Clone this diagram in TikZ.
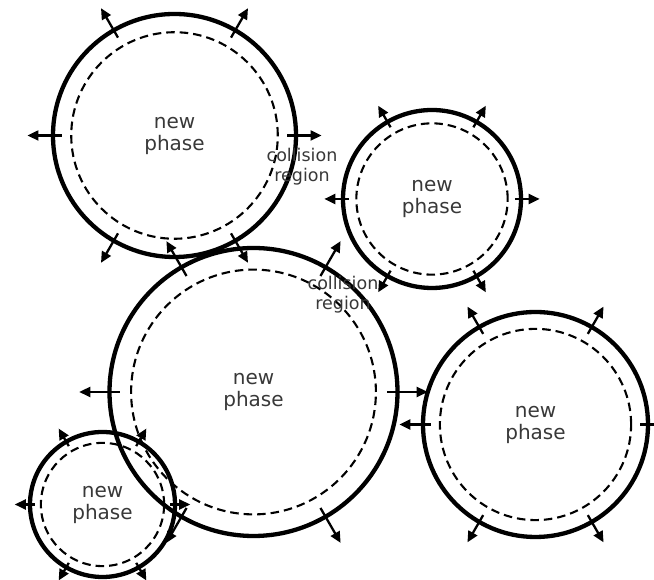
\documentclass[tikz,border=0pt]{standalone}
\usepackage{fontspec}
\setmainfont{DejaVu Sans}
\usetikzlibrary{arrows.meta,calc}
\definecolor{txt}{HTML}{383838}
\tikzset{
  solidc/.style={circle, draw=black, line width=4.3pt, inner sep=0pt, outer sep=0pt,
     text=txt, align=center, font=\fontsize{20}{22}\selectfont},
  dashc/.style={circle, draw=black, line width=2.1pt, inner sep=0pt, outer sep=0pt,
     dash pattern=on 8.5pt off 5pt},
  arr/.style={line width=2.3pt, -{Triangle[length=11pt,width=10pt]}},
  lbl/.style={text=txt, align=center, font=\fontsize{17.5}{20}\selectfont, inner sep=0pt},
}
\newcommand\phasecircle[4]{%
  \pgfmathsetmacro\dsol{2*#4}%
  \pgfmathsetmacro\ddash{1.7*#4}%
  \pgfmathsetmacro\rin{0.93*#4}%
  \pgfmathsetmacro\rout{1.21*#4}%
  \node[solidc, minimum size=\dsol pt] (#1) at (#2,#3) {new\\phase};
  \node[dashc, minimum size=\ddash pt] (#1d) at (#1) {};
  \foreach \a in {0,60,...,300}{
    \draw[arr] ($(#1)+(\a:\rin pt)$) -- ($(#1)+(\a:\rout pt)$);
  }%
}
\begin{document}
\begin{tikzpicture}[x=1pt,y=1pt]
\useasboundingbox (0,0) rectangle (654,580);
\phasecircle{c1}{174.5}{444.5}{121.5}
\phasecircle{c2}{432}{381}{89}
\phasecircle{c3}{253.5}{188}{144}
\phasecircle{c4}{535.5}{155.5}{112.5}
\phasecircle{c5}{102.5}{75.5}{72.5}
\node[lbl] (col1) at (302,413) {collision\\region};
\node[lbl] (col2) at (343,285) {collision\\region};
\end{tikzpicture}
\end{document}
